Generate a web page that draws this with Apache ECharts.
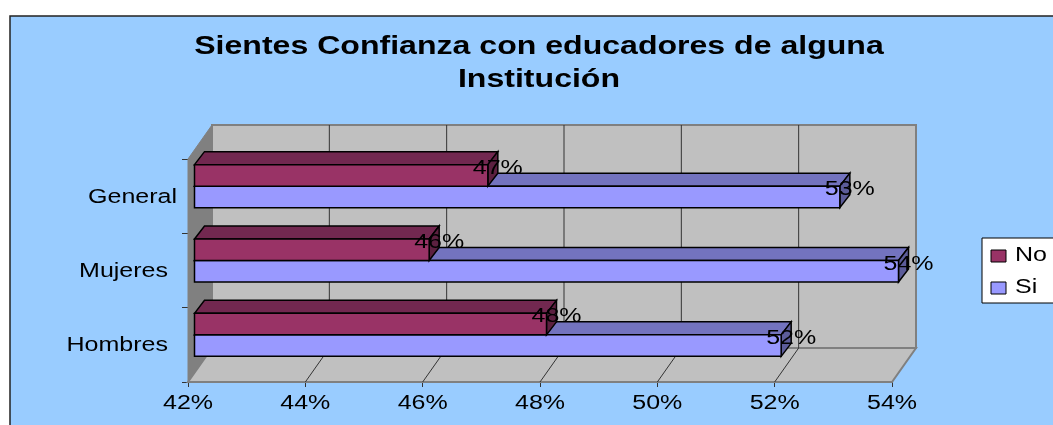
<!DOCTYPE html>
<html>
<head>
<meta charset="utf-8">
<style>html,body{margin:0;padding:0;background:#fff;overflow:hidden}#c{width:1053px;height:425px}</style>
<script src="https://cdn.jsdelivr.net/npm/echarts@6/dist/echarts.min.js"></script>
</head>
<body>
<div id="c"></div>
<script>
const titleLines = ['Sientes Confianza con educadores de alguna', 'Institución'];
const categories = ['Hombres', 'Mujeres', 'General'];
const noValues = [48, 46, 47];
const siValues = [52, 54, 53];
const noLabels = ['48%', '46%', '47%'];
const siLabels = ['52%', '54%', '53%'];
const tickValues = [42, 44, 46, 48, 50, 52, 54];
const tickLabels = ['42%', '44%', '46%', '48%', '50%', '52%', '54%'];
const legendNames = ['No', 'Si'];

const FONT = '"Liberation Sans", Arial, sans-serif';
const SX = 1.22, TXT = 20.5;
const WALL = [24, -34], BARD = [10, -13], BAROFF = [6.5, -10], BARH = 21.5;
const XMIN = 42;
const catRight = [168, 168, 177];
const noStyle = { front: '#993366', top: '#722850', side: '#5C2040' };
const siStyle = { front: '#9999FF', top: '#7373BF', side: '#5C5C99' };

function text(x, y, str, align, size, weight) {
  return { type: 'text', x, y, scaleX: SX, z2: 20,
    style: { text: str, fill: '#000', align: align, verticalAlign: 'middle',
      font: (weight || 'normal') + ' ' + (size || TXT) + 'px ' + FONT } };
}
function poly(pts, fill, stroke, lw) {
  return { type: 'polygon', shape: { points: pts },
    style: { fill, stroke: stroke || '#000', lineWidth: lw === undefined ? 1.5 : lw } };
}
function barRenderer(st, kind, labels) {
  return function (params, api) {
    const cat = api.value(1), v = api.value(0);
    const p0 = api.coord([XMIN, cat]), p1 = api.coord([v, cat]);
    const x0 = p0[0] + BAROFF[0], x1 = p1[0] + BAROFF[0];
    const mid = p0[1] + BAROFF[1];
    const yt = kind === 'no' ? mid - BARH : mid, yb = yt + BARH;
    const dx = BARD[0], dy = BARD[1];
    return { type: 'group', children: [
      poly([[x0, yt], [x0 + dx, yt + dy], [x1 + dx, yt + dy], [x1, yt]], st.top),
      poly([[x1, yt], [x1 + dx, yt + dy], [x1 + dx, yb + dy], [x1, yb]], st.side),
      poly([[x0, yt], [x1, yt], [x1, yb], [x0, yb]], st.front),
      text(x1 + 10, yt + 3.5, labels[params.dataIndex], 'center')
    ] };
  };
}
const chart = echarts.init(document.getElementById('c'), null, { renderer: 'canvas' });
chart.setOption({
  animation: false,
  backgroundColor: '#fff',
  tooltip: { show: false },
  graphic: { elements: [
    { type: 'rect', shape: { x: 10, y: 16, width: 1100, height: 500 }, z: 0,
      style: { fill: '#99CCFF', stroke: '#222', lineWidth: 1.5 } },
    { type: 'text', x: 539, y: 47, scaleX: 1.21, z: 1, style: { text: titleLines[0], align: 'center', verticalAlign: 'middle', fill: '#000', font: 'bold 26.5px ' + FONT } },
    { type: 'text', x: 539, y: 80, scaleX: 1.21, z: 1, style: { text: titleLines[1], align: 'center', verticalAlign: 'middle', fill: '#000', font: 'bold 26.5px ' + FONT } },
    { type: 'rect', shape: { x: 982, y: 238, width: 90, height: 65 }, z: 1, style: { fill: '#fff', stroke: '#000', lineWidth: 1 } },
    { type: 'rect', shape: { x: 991, y: 250, width: 15, height: 12 }, z: 2, style: { fill: noStyle.front, stroke: '#000', lineWidth: 1 } },
    { type: 'rect', shape: { x: 991, y: 282, width: 15, height: 12 }, z: 2, style: { fill: siStyle.front, stroke: '#000', lineWidth: 1 } },
    { type: 'text', x: 1015, y: 255, scaleX: SX, z: 2, style: { text: legendNames[0], align: 'left', verticalAlign: 'middle', fill: '#000', font: TXT + 'px ' + FONT } },
    { type: 'text', x: 1015, y: 287, scaleX: SX, z: 2, style: { text: legendNames[1], align: 'left', verticalAlign: 'middle', fill: '#000', font: TXT + 'px ' + FONT } }
  ] },
  grid: { left: 188, top: 159, width: 704, height: 223 },
  xAxis: { type: 'value', min: 42, max: 54, interval: 2,
    splitLine: { show: false }, axisLabel: { show: false },
    axisLine: { show: false },
    axisTick: { show: true, length: 5, lineStyle: { color: '#333' } } },
  yAxis: { type: 'category', data: categories,
    axisLabel: { show: false },
    axisLine: { show: true, lineStyle: { color: '#666' } },
    axisTick: { show: true, length: 6, lineStyle: { color: '#333' } } },
  series: [
    { type: 'custom', name: 'walls', silent: true, z: 1, data: [[42, 0]],
      renderItem: (params) => {
        const c = params.coordSys, L = c.x, R = c.x + c.width, T = c.y, B = c.y + c.height;
        const dx = WALL[0], dy = WALL[1];
        return { type: 'group', children: [
          poly([[L + dx, T + dy], [R + dx, T + dy], [R + dx, B + dy], [L + dx, B + dy]], '#C0C0C0', '#808080', 2),
          poly([[L, T], [L + dx, T + dy], [L + dx, B + dy], [L, B]], '#808080', '#808080', 1),
          poly([[L, B], [L + dx, B + dy], [R + dx, B + dy], [R, B]], '#C0C0C0', '#808080', 2)
        ] };
      } },
    { type: 'custom', name: 'gridlines', silent: true, z: 2, data: tickValues.slice(1, -1).map(v => [v, 0]),
      renderItem: (params, api) => {
        const c = params.coordSys, x = api.coord([api.value(0), 0])[0], B = c.y + c.height;
        const dx = WALL[0], dy = WALL[1], ls = { stroke: '#333', lineWidth: 1 };
        return { type: 'group', children: [
          { type: 'line', shape: { x1: x + dx, y1: c.y + dy, x2: x + dx, y2: B + dy }, style: ls },
          { type: 'line', shape: { x1: x + dx, y1: B + dy, x2: x, y2: B }, style: ls }
        ] };
      } },
    { type: 'custom', name: 'Si', silent: true, z: 3, data: siValues.map((v, i) => [v, i]),
      encode: { x: 0, y: 1 }, renderItem: barRenderer(siStyle, 'si', siLabels) },
    { type: 'custom', name: 'No', silent: true, z: 4, data: noValues.map((v, i) => [v, i]),
      encode: { x: 0, y: 1 }, renderItem: barRenderer(noStyle, 'no', noLabels) },
    { type: 'custom', name: 'xLabels', silent: true, z: 5, data: tickValues.map(v => [v, 0]),
      renderItem: (params, api) => {
        const c = params.coordSys, x = api.coord([api.value(0), 0])[0];
        return text(x, c.y + c.height + 21, tickLabels[params.dataIndex], 'center');
      } },
    { type: 'custom', name: 'yLabels', silent: true, z: 5, data: categories.map((n, i) => [42, i]),
      renderItem: (params, api) => {
        const y = api.coord([42, api.value(1)])[1];
        return text(catRight[params.dataIndex], y + 1, categories[params.dataIndex], 'right');
      } }
  ]
});
</script>
</body>
</html>
